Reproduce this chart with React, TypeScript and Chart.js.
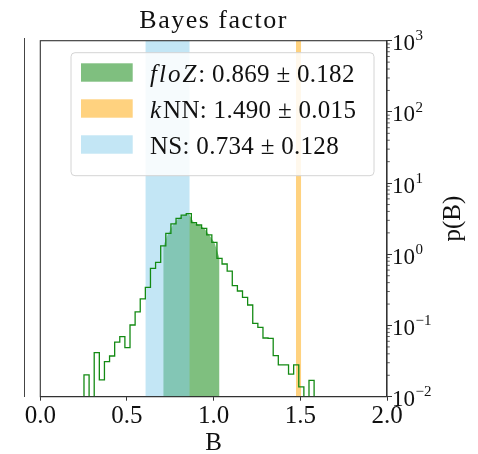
import React, { useEffect, useRef } from 'react';
import { Chart, registerables } from 'chart.js';

Chart.register(...registerables);

// ---- data ----
const binStart = 0.252;
const binWidth = 0.0295;
const density = [
  0.0202, 0, 0.0415, 0.0172, 0.031, 0.0373, 0.0586, 0.0697, 0.0488, 0.1016,
  0.155, 0.236, 0.344, 0.636, 0.772, 1.31, 1.97, 2.67, 3.2, 3.56,
  3.72, 2.78, 2.58, 2.32, 1.87, 1.47, 0.879, 0.731, 0.582, 0.362,
  0.305, 0.249, 0.194, 0.107, 0.0944, 0.0667, 0.066, 0.0377, 0.0279, 0.0279,
  0.0208, 0.0279, 0.0137, 0, 0.017,
];
const methodNames = ['floZ', 'kNN', 'NS'];
const methodMeans = [0.869, 1.49, 0.734];
const methodErrs = [0.182, 0.015, 0.128];
const methodColors = ['rgba(0,128,0,0.5)', 'rgba(255,165,0,0.5)', 'rgba(135,206,235,0.5)'];
const xTicks = [0, 0.5, 1.0, 1.5, 2.0];
const yTicks = [0.01, 0.1, 1, 10, 100, 1000];
const titleText = 'Bayes factor';
const xTitle = 'B';
const yTitle = 'p(B)';

const FONT = "'Liberation Serif', 'Times New Roman', serif";
const TEXT = '#111';

function buildData() {
  const n = density.length;
  const yMin = yTicks[0];
  const edges: number[] = [];
  for (let i = 0; i <= n; i++) edges.push(binStart + i * binWidth);
  const clip = (v: number) => Math.max(v, yMin);
  const step: { x: number; y: number }[] = [{ x: edges[0], y: yMin }];
  for (let i = 0; i < n; i++) {
    step.push({ x: edges[i], y: clip(density[i]) });
    step.push({ x: edges[i + 1], y: clip(density[i]) });
  }
  step.push({ x: edges[n], y: yMin });

  const lo = methodMeans[0] - methodErrs[0];
  const hi = methodMeans[0] + methodErrs[0];
  const fillPts: { x: number; y: number }[] = [];
  for (let i = 0; i < n; i++) {
    const c = (edges[i] + edges[i + 1]) / 2;
    if (c >= lo && c <= hi) fillPts.push({ x: c, y: clip(density[i]) });
  }
  const yMax = yTicks[yTicks.length - 1];
  const band = (k: number) => [
    { x: methodMeans[k] - methodErrs[k], y: yMax },
    { x: methodMeans[k] + methodErrs[k], y: yMax },
  ];
  return { step, fillPts, knn: band(1), ns: band(2) };
}

const decorPlugin = {
  id: 'decor',
  afterDraw(chart: any) {
    const { ctx, chartArea: ca, scales } = chart;
    const ys = scales.y;
    ctx.save();

    // stray vertical line at the left
    ctx.strokeStyle = '#444';
    ctx.lineWidth = 1;
    ctx.beginPath();
    ctx.moveTo(24.5, 38);
    ctx.lineTo(24.5, 397);
    ctx.stroke();

    // spines
    ctx.strokeStyle = '#333';
    ctx.lineWidth = 1.1;
    ctx.strokeRect(ca.left, ca.top, ca.right - ca.left, ca.bottom - ca.top);

    // minor ticks on the log axis
    ctx.lineWidth = 0.8;
    ctx.beginPath();
    for (let i = 0; i < yTicks.length - 1; i++) {
      for (let m = 2; m <= 9; m++) {
        const py = ys.getPixelForValue(yTicks[i] * m);
        ctx.moveTo(ca.right, py);
        ctx.lineTo(ca.right + 2.8, py);
      }
    }
    ctx.stroke();

    // y tick labels 10^k
    ctx.fillStyle = TEXT;
    ctx.textAlign = 'left';
    ctx.textBaseline = 'alphabetic';
    for (const v of yTicks) {
      const py = ys.getPixelForValue(v);
      const e = Math.round(Math.log10(v));
      const x0 = ca.right + 5;
      ctx.font = `23px ${FONT}`;
      ctx.fillText('10', x0, py + 9.5);
      const w = ctx.measureText('10').width;
      ctx.font = `15px ${FONT}`;
      ctx.fillText(e < 0 ? '\u2212' + String(-e) : String(e), x0 + w + 0.5, py - 0.3);
    }

    // y axis title (rotated)
    ctx.save();
    ctx.translate(459.5, (ca.top + ca.bottom) / 2);
    ctx.rotate(-Math.PI / 2);
    ctx.font = `25px ${FONT}`;
    ctx.textAlign = 'center';
    ctx.textBaseline = 'alphabetic';
    ctx.fillText(yTitle, 0, 0);
    ctx.restore();

    // x axis title
    ctx.font = `25px ${FONT}`;
    ctx.textAlign = 'center';
    ctx.fillText(xTitle, (ca.left + ca.right) / 2, 450);

    // chart title
    ctx.font = `26px ${FONT}`;
    (ctx as any).letterSpacing = '1.5px';
    ctx.fillText(titleText, (ca.left + ca.right) / 2, 27.5);
    (ctx as any).letterSpacing = '0px';

    // legend
    const lx = 71, ly = 52.7, lw = 303, lh = 123;
    ctx.beginPath();
    (ctx as any).roundRect(lx, ly, lw, lh, 4);
    ctx.fillStyle = 'rgba(255,255,255,0.85)';
    ctx.fill();
    ctx.strokeStyle = '#d4d4d4';
    ctx.lineWidth = 1;
    ctx.stroke();

    const rows = [
      [{ t: 'floZ', it: true }, { t: ': ' + methodMeans[0].toFixed(3) + ' \u00b1 ' + methodErrs[0].toFixed(3), it: false }],
      [{ t: 'k', it: true }, { t: 'NN: ' + methodMeans[1].toFixed(3) + ' \u00b1 ' + methodErrs[1].toFixed(3), it: false }],
      [{ t: methodNames[2] + ': ' + methodMeans[2].toFixed(3) + ' \u00b1 ' + methodErrs[2].toFixed(3), it: false }],
    ];
    ctx.textAlign = 'left';
    for (let i = 0; i < rows.length; i++) {
      const top = 63.3 + i * 36;
      ctx.fillStyle = methodColors[i];
      ctx.fillRect(81, top, 51.7, 18.4);
      ctx.fillStyle = TEXT;
      let tx = 150;
      for (const seg of rows[i]) {
        ctx.font = seg.it ? `italic 25px ${FONT}` : `25px ${FONT}`;
        (ctx as any).letterSpacing = seg.it ? '2px' : '0.3px';
        ctx.fillText(seg.t, tx, top + 18.4);
        tx += ctx.measureText(seg.t).width;
      }
      (ctx as any).letterSpacing = '0px';
    }
    ctx.restore();
  },
};

export default function App() {
  const ref = useRef<HTMLCanvasElement | null>(null);
  useEffect(() => {
    if (!ref.current) return;
    const d = buildData();
    const chart = new Chart(ref.current, {
      type: 'line',
      data: {
        datasets: [
          {
            label: 'hist',
            data: d.step,
            borderColor: '#138a13',
            borderWidth: 1.3,
            pointRadius: 0,
            fill: false,
            tension: 0,
            order: 0,
          },
          {
            label: methodNames[1],
            data: d.knn,
            borderWidth: 0,
            pointRadius: 0,
            backgroundColor: methodColors[1],
            fill: 'start',
            order: 1,
          },
          {
            label: methodNames[2],
            data: d.ns,
            borderWidth: 0,
            pointRadius: 0,
            backgroundColor: methodColors[2],
            fill: 'start',
            order: 2,
          },
          {
            label: methodNames[0],
            data: d.fillPts,
            borderWidth: 0,
            pointRadius: 0,
            backgroundColor: methodColors[0],
            fill: 'start',
            tension: 0,
            order: 3,
          },
        ],
      },
      options: {
        animation: false,
        responsive: false,
        events: [],
        parsing: true,
        layout: { padding: { left: 40.3, top: 40.7, right: 0, bottom: 0 } },
        plugins: { legend: { display: false }, title: { display: false }, tooltip: { enabled: false } },
        scales: {
          x: {
            type: 'linear',
            min: xTicks[0],
            max: xTicks[xTicks.length - 1],
            afterBuildTicks: (s: any) => {
              s.ticks = xTicks.map((v) => ({ value: v }));
            },
            afterFit: (s: any) => {
              s.height = 57.3;
            },
            ticks: {
              callback: (v: any) => Number(v).toFixed(1),
              font: { family: FONT, size: 25 },
              color: TEXT,
              padding: 1,
              maxRotation: 0,
              autoSkip: false,
            },
            grid: { drawOnChartArea: false, drawTicks: true, tickLength: 4, color: '#333', tickWidth: 1 },
            border: { display: true, color: '#333', width: 1.1 },
          },
          y: {
            type: 'logarithmic',
            position: 'right',
            min: yTicks[0],
            max: yTicks[yTicks.length - 1],
            afterBuildTicks: (s: any) => {
              s.ticks = yTicks.map((v) => ({ value: v, major: true }));
            },
            afterFit: (s: any) => {
              s.width = 91;
            },
            ticks: { display: false },
            grid: { drawOnChartArea: false, drawTicks: true, tickLength: 5, color: '#333', tickWidth: 1 },
            border: { display: true, color: '#333', width: 1.1 },
          },
        },
      },
      plugins: [decorPlugin],
    } as any);
    return () => chart.destroy();
  }, []);
  return (
    <div style={{ position: 'fixed', left: 0, top: 0, width: 478, height: 454, background: '#fff' }}>
      <canvas ref={ref} width={478} height={454} style={{ display: 'block' }} />
    </div>
  );
}
